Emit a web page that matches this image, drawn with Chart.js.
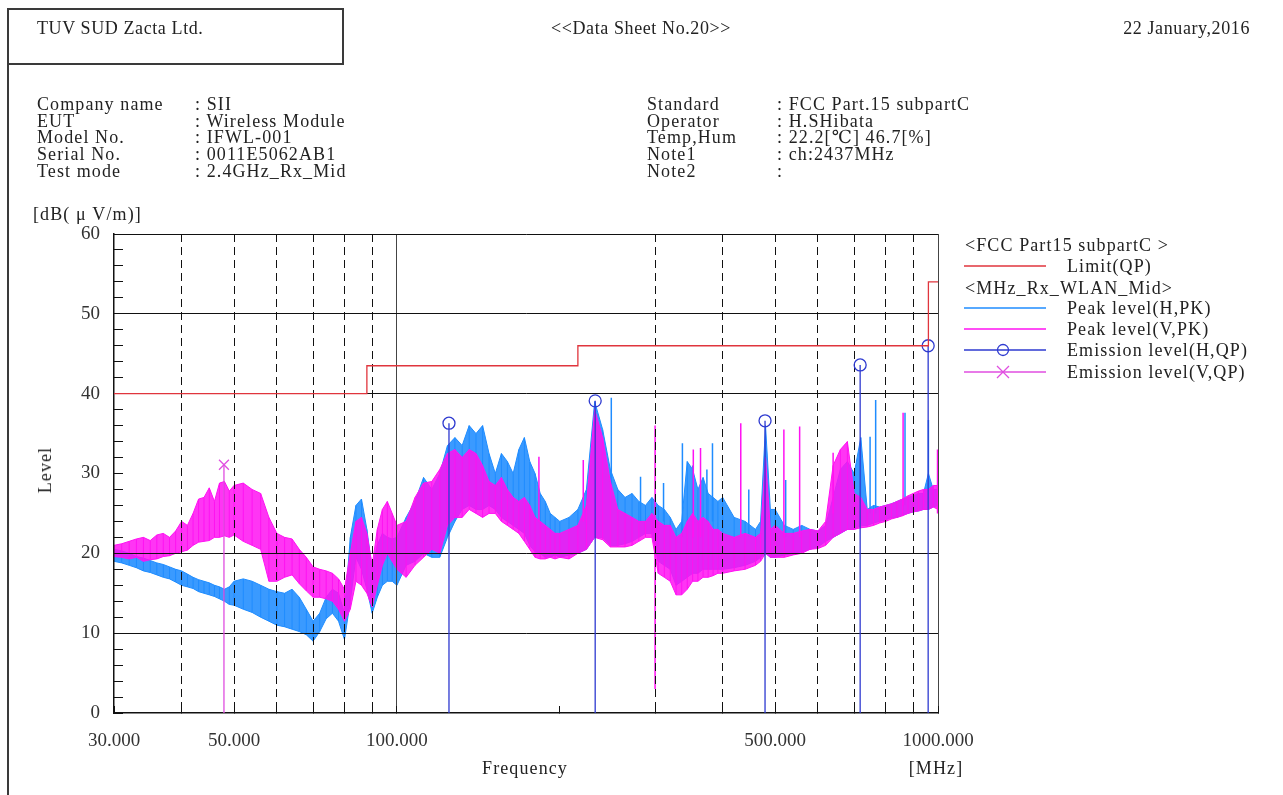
<!DOCTYPE html>
<html>
<head>
<meta charset="utf-8">
<title>Data Sheet No.20</title>
<script src="https://cdn.jsdelivr.net/npm/chart.js@4.4.1/dist/chart.umd.min.js"></script>
<style>
  html, body { margin: 0; padding: 0; background: #fff; }
  #page { position: relative; width: 1283px; height: 795px; overflow: hidden;
          font-family: 'Liberation Serif', 'DejaVu Serif', serif; font-size: 18px; color: #222; }
  #chart { position: absolute; left: 0; top: 0; }
  .t { position: absolute; white-space: pre; line-height: 20px; letter-spacing: 1.1px; transform: translateY(-50%); }
  .rule { position: absolute; background: #3a3a3a; }
  svg.key { position: absolute; overflow: visible; }
</style>
</head>
<body>
<div id="page">
  <canvas id="chart" width="1283" height="795"></canvas>
</div>
<script>
// ---------- data ----------
// frequency grid [MHz] for the peak traces
const freq = [
  30,31,32,33,34,35,36,37,38,39,40,41,42,43,44,45,46,47,48,49,50,
  52,54,56,58,60,62,64,66,68,70,72,74,76,78,80,82,84,86,88,90,92,94,96,98,100,
  104,108,112,116,120,124,128,132,136,140,144,148,152,156,160,164,168,172,176,180,184,188,192,196,200,
  208,216,224,232,240,248,256,264,272,280,288,296,
  304,312,320,328,336,344,352,360,368,376,384,392,400,
  420,440,460,470,480,490,500,520,540,560,580,600,620,640,660,680,700,720,740,760,780,800,820,840,860,880,900,920,940,960,980,1000
];
// horizontal polarisation, peak detector: top / bottom of the noise band [dB(uV/m)]
const hPeakHigh = [
  20.5,20.3,20.0,19.6,19.4,19.1,18.8,18.6,18.3,18.0,17.8,17.4,17.0,16.7,16.5,16.3,16.0,15.8,15.5,15.8,16.5,
  16.8,16.5,16.0,15.5,15.2,15.0,15.5,14.5,13.0,11.5,12.5,14.5,15.5,15.0,12.5,22.0,26.0,26.8,23.0,18.0,21.0,22.5,22.0,21.8,22.0,
  24.5,26.5,29.5,28.0,30.0,33.5,34.5,33.5,36.0,35.0,36.0,32.5,30.0,32.5,31.5,30.0,33.0,34.5,31.5,30.0,27.5,26.5,25.0,24.5,24.0,
  24.5,25.5,28.0,39.0,35.5,30.5,28.0,27.0,27.5,26.5,26.0,27.0,
  26.0,25.5,24.5,23.0,24.0,31.5,30.5,28.0,29.5,27.5,27.0,26.5,27.0,
  24.5,24.0,23.0,24.0,36.0,25.5,25.5,23.5,23.0,23.5,23.0,22.8,23.5,27.0,30.5,31.5,30.0,34.5,25.5,26.0,25.8,26.0,26.2,26.5,26.8,27.0,27.2,27.5,27.5,30.0,28.0,28.0
];
const hPeakLow = [
  19.0,18.8,18.5,18.2,17.8,17.6,17.3,17.0,16.8,16.4,16.0,15.8,15.6,15.2,15.0,14.8,14.6,14.3,14.0,13.6,13.5,
  13.0,12.6,12.0,11.5,11.0,10.8,10.5,10.2,9.8,9.0,10.2,11.8,12.5,11.5,9.2,14.0,19.5,18.0,15.5,12.5,14.5,16.0,16.5,16.5,16.0,
  18.5,19.0,20.0,19.5,19.5,22.0,24.0,25.5,26.0,25.5,25.5,26.0,25.5,24.5,24.0,23.5,23.0,22.5,21.0,20.2,20.0,19.5,19.5,19.8,19.5,
  19.8,20.0,20.5,22.0,22.0,21.0,21.0,21.2,21.5,22.0,22.5,22.5,
  19.0,18.5,18.0,16.0,16.5,17.0,17.5,17.5,18.0,18.0,18.0,18.0,18.0,
  18.2,18.5,19.0,19.5,20.0,19.5,19.5,19.8,20.0,20.2,20.5,20.8,21.5,22.0,22.5,23.0,23.0,23.5,23.5,23.8,24.0,24.2,24.5,24.5,24.8,25.0,25.2,25.3,25.5,25.5,25.8,26.0
];
// vertical polarisation, peak detector
const vPeakHigh = [
  21.0,21.2,21.5,21.8,22.0,21.6,22.3,22.5,22.0,22.8,24.0,23.5,25.0,26.8,27.0,28.2,26.5,28.8,29.0,27.8,28.5,
  28.8,28.0,27.5,24.5,22.5,22.0,21.8,20.5,19.5,18.3,18.0,17.8,17.5,16.8,15.5,20.0,24.0,24.5,22.5,18.5,23.0,25.5,26.5,25.0,23.5,
  24.0,27.0,28.8,29.0,30.5,32.5,33.0,32.0,33.0,32.5,31.0,29.0,28.5,29.5,28.0,27.0,26.5,27.0,26.0,24.5,24.0,23.5,23.0,22.5,22.5,
  23.0,23.5,26.0,38.0,34.5,29.0,25.5,25.0,24.5,24.0,24.0,25.0,
  24.0,23.5,23.5,22.0,22.5,24.0,25.0,24.0,24.5,24.0,23.0,23.0,22.5,
  22.0,22.5,22.0,22.5,32.0,23.0,23.5,22.5,22.5,22.8,23.0,22.8,24.0,31.0,33.0,34.0,27.5,27.0,25.5,25.5,25.8,26.0,26.2,26.5,26.8,27.2,27.5,27.8,28.0,28.0,28.5,28.5
];
const vPeakLow = [
  19.6,19.5,19.3,19.5,19.0,19.2,19.3,19.6,19.7,20.0,20.2,20.4,21.0,21.4,21.5,21.6,22.0,22.0,22.2,22.0,22.3,
  21.5,21.0,20.5,16.5,16.5,17.0,17.3,16.2,15.3,14.5,14.5,14.3,14.0,13.0,11.5,13.0,16.5,16.0,15.0,13.3,16.0,18.5,20.0,19.0,18.0,
  17.0,18.5,19.5,20.5,20.0,23.5,24.5,24.5,25.5,25.0,24.5,25.0,25.0,24.0,23.5,23.0,22.5,21.5,20.5,19.5,19.3,19.3,19.5,19.3,19.5,
  19.3,20.0,20.5,22.0,21.7,20.8,20.8,20.8,21.0,21.5,22.0,22.0,
  17.5,17.0,16.5,14.8,14.8,15.5,16.5,16.5,17.0,17.0,17.2,17.5,17.5,
  17.8,18.0,18.5,19.0,20.0,19.5,19.5,19.5,19.8,20.0,20.5,20.6,21.0,22.0,22.5,23.0,23.0,23.2,23.3,23.5,23.8,24.0,24.3,24.5,24.7,25.0,25.2,25.3,25.5,25.5,25.8,25.5
];
// narrow spurious lines sticking out of the bands
const hSpikeFreq = [249, 282, 311, 337, 352, 374, 383, 447, 523, 749, 767, 869, 960];
const hSpikeTop  = [39.5, 29.6, 28.8, 33.8, 31.0, 30.5, 33.8, 28.0, 29.2, 34.6, 39.2, 37.6, 36.7];
const hSpikeBase = [28, 24, 24, 22, 25, 24, 24, 22, 22, 25, 25, 26, 27];
const vSpikeFreq = [183, 221, 300, 353, 364, 432, 519, 555, 640, 862, 998];
const vSpikeTop  = [32.1, 31.7, 36.0, 33.0, 33.2, 36.3, 35.5, 35.9, 32.6, 37.6, 33.0];
const vSpikeBase = [24, 24, 3.0, 22, 22, 22, 22, 22, 25, 26, 25];
// quasi-peak emission results
const qpHFreq  = [124.8, 232.5, 479, 718, 959];
const qpHLevel = [36.3, 39.1, 36.6, 43.6, 46.0];
const qpVFreq  = [47.9];
const qpVLevel = [31.1];
// FCC Part 15 limit (QP), steps
const limitFreq  = [30, 88, 216, 960, 1000];
const limitLevel = [40, 43.5, 46, 54, 54];
// axes
const xGridValues  = [30, 40, 50, 60, 70, 80, 90, 100, 200, 300, 400, 500, 600, 700, 800, 900, 1000];
const xLabelValues = [30, 50, 100, 500, 1000];
const yGridValues  = [10, 20, 40, 50, 60];

// ---------- colours ----------
const hColor = '#1f8cff';
const hFill = 'rgba(31,140,255,0.88)';
const vColor = '#ff12f2';
const vFill = 'rgba(255,18,242,0.85)';
const qpHColor = '#2e3ad0';
const qpVColor = '#e04ee0';
const limitColor = '#e0353d';

// ---------- page text ----------
const page = document.getElementById('page');
function text(str, x, y, align, extra) {
  const d = document.createElement('div');
  d.className = 't';
  d.textContent = str;
  d.style.top = y + 'px';
  if (align === 'right') d.style.right = (1283 - x) + 'px';
  else d.style.left = x + 'px';
  if (align === 'center') d.style.transform = 'translate(-50%, -50%)';
  if (extra) Object.assign(d.style, extra);
  page.appendChild(d);
  return d;
}
function rule(x, y, w, h) {
  const d = document.createElement('div');
  d.className = 'rule';
  Object.assign(d.style, { left: x + 'px', top: y + 'px', width: w + 'px', height: h + 'px' });
  page.appendChild(d);
}
rule(7, 8, 1.5, 787);
rule(7, 8, 336, 1.5);
rule(342, 8, 1.5, 57);
rule(7, 63, 336, 1.5);

text('TUV SUD Zacta Ltd.', 37, 28, 'left', { letterSpacing: '0.6px' });
text('<<Data Sheet No.20>>', 641, 28, 'center', { letterSpacing: '0.6px' });
text('22 January,2016', 1250, 28, 'right', { letterSpacing: '0.6px' });

const infoLeft = [
  ['Company name', ': SII'], ['EUT', ': Wireless Module'], ['Model No.', ': IFWL-001'],
  ['Serial No.', ': 0011E5062AB1'], ['Test mode', ': 2.4GHz_Rx_Mid']
];
const infoRight = [
  ['Standard', ': FCC Part.15 subpartC'], ['Operator', ': H.SHibata'], ['Temp,Hum', ': 22.2[\u2103] 46.7[%]'],
  ['Note1', ': ch:2437MHz'], ['Note2', ':']
];
infoLeft.forEach((r, i) => { text(r[0], 37, 104 + i * 16.7); text(r[1], 195, 104 + i * 16.7); });
infoRight.forEach((r, i) => { text(r[0], 647, 104 + i * 16.7); text(r[1], 777, 104 + i * 16.7); });

text('[dB( \u03bc V/m)]', 33, 214);
text('Level', 45, 470, 'center', { transform: 'translate(-50%, -50%) rotate(-90deg)' });
text('Frequency', 525, 768, 'center');
text('[MHz]', 936, 768, 'center');

// legend
const legendRows = [
  { head: '<FCC Part15 subpartC >', y: 245 },
  { label: 'Limit(QP)', color: limitColor, y: 266 },
  { head: '<MHz_Rx_WLAN_Mid>', y: 288 },
  { label: 'Peak level(H,PK)', color: hColor, y: 308 },
  { label: 'Peak level(V,PK)', color: vColor, y: 329 },
  { label: 'Emission level(H,QP)', color: qpHColor, y: 350, marker: 'circle' },
  { label: 'Emission level(V,QP)', color: qpVColor, y: 372, marker: 'cross' }
];
const NS = 'http://www.w3.org/2000/svg';
legendRows.forEach(r => {
  if (r.head) { text(r.head, 965, r.y); return; }
  const svg = document.createElementNS(NS, 'svg');
  svg.setAttribute('class', 'key');
  svg.setAttribute('width', 82); svg.setAttribute('height', 14);
  svg.style.left = '964px'; svg.style.top = (r.y - 7) + 'px';
  let html = `<line x1="0" y1="7" x2="82" y2="7" stroke="${r.color}" stroke-width="1.3"/>`;
  if (r.marker === 'circle') html += `<circle cx="39" cy="7" r="5.5" fill="none" stroke="${r.color}" stroke-width="1.3"/>`;
  if (r.marker === 'cross') html += `<path d="M33 1 L45 13 M45 1 L33 13" stroke="${r.color}" stroke-width="1.3"/>`;
  svg.innerHTML = html;
  page.appendChild(svg);
  text(r.label, 1067, r.y);
});

// ---------- chart ----------
Chart.defaults.font.family = "'Liberation Serif', 'DejaVu Serif', serif";
Chart.defaults.font.size = 19;
Chart.defaults.color = '#333';

const xy = (xs, ys) => xs.map((x, i) => ({ x, y: ys[i] }));
const stems = (xs, tops, bases) =>
  xs.flatMap((x, i) => [{ x, y: bases ? bases[i] : 0 }, { x, y: tops[i] }, { x, y: null }]);

const lineBase = { pointRadius: 0, borderWidth: 1, fill: false, spanGaps: false };

const datasets = [
  { ...lineBase, label: 'Emission level(H,QP)', data: xy(qpHFreq, qpHLevel), showLine: false,
    pointStyle: 'circle', pointRadius: 6, pointBorderColor: qpHColor, pointBackgroundColor: 'rgba(0,0,0,0)',
    pointBorderWidth: 1.3, order: 0, onTop: true },
  { ...lineBase, label: 'Emission level(V,QP)', data: xy(qpVFreq, qpVLevel), showLine: false,
    pointStyle: 'crossRot', pointRadius: 7, pointBorderColor: qpVColor, pointBorderWidth: 1.3, order: 0, onTop: true },
  { ...lineBase, label: 'H QP stems', data: stems(qpHFreq, qpHLevel), borderColor: qpHColor, borderWidth: 1.3, order: 1, onTop: true },
  { ...lineBase, label: 'V QP stems', data: stems(qpVFreq, qpVLevel), borderColor: qpVColor, borderWidth: 1.3, order: 1, onTop: true },
  { ...lineBase, label: 'Limit(QP)', data: xy(limitFreq, limitLevel), stepped: 'before', borderColor: limitColor, borderWidth: 1.3, order: 1, onTop: true },
  { ...lineBase, label: 'Peak level(V,PK) lines', data: stems(vSpikeFreq, vSpikeTop, vSpikeBase), borderColor: vColor, borderWidth: 1.5, order: 3 },
  { ...lineBase, label: 'Peak level(V,PK) sweeps', data: stems(freq, vPeakHigh, vPeakLow), borderColor: vColor, order: 4 },
  { ...lineBase, label: 'Peak level(V,PK)', data: xy(freq, vPeakHigh), borderColor: vColor, backgroundColor: vFill, fill: '+1', order: 4 },
  { ...lineBase, label: 'Peak level(V,PK) low', data: xy(freq, vPeakLow), borderColor: vColor, order: 4 },
  { ...lineBase, label: 'Peak level(H,PK) lines', data: stems(hSpikeFreq, hSpikeTop, hSpikeBase), borderColor: hColor, borderWidth: 1.5, order: 5 },
  { ...lineBase, label: 'Peak level(H,PK) sweeps', data: stems(freq, hPeakHigh, hPeakLow), borderColor: hColor, order: 6 },
  { ...lineBase, label: 'Peak level(H,PK)', data: xy(freq, hPeakHigh), borderColor: hColor, backgroundColor: hFill, fill: '+1', order: 6 },
  { ...lineBase, label: 'Peak level(H,PK) low', data: xy(freq, hPeakLow), borderColor: hColor, order: 6 }
];

// limit, QP stems and markers are drawn above the grid like on the data sheet
const onTopPlugin = {
  id: 'onTop',
  beforeDatasetDraw(chart, args) {
    if (chart.data.datasets[args.index].onTop) return false;
  },
  afterDraw(chart) {
    const { ctx, chartArea: a } = chart;
    ctx.save();
    ctx.beginPath();
    ctx.rect(a.left, a.top - 8, a.right - a.left, a.bottom - a.top + 8);
    ctx.clip();
    chart.data.datasets.forEach((ds, i) => {
      if (ds.onTop) chart.getDatasetMeta(i).controller.draw();
    });
    ctx.restore();
  }
};

new Chart(document.getElementById('chart'), {
  type: 'line',
  data: { datasets },
  plugins: [onTopPlugin],
  options: {
    responsive: false,
    animation: false,
    devicePixelRatio: 1,
    layout: { padding: { left: 54, top: 234, right: 345, bottom: 32 } },
    plugins: { legend: { display: false }, tooltip: { enabled: false } },
    scales: {
      x: {
        type: 'logarithmic',
        min: 30,
        max: 1000,
        afterBuildTicks: s => { s.ticks = xGridValues.map(v => ({ value: v })); },
        afterFit: s => { s.height = 50; },
        ticks: {
          autoSkip: false,
          maxRotation: 0,
          padding: 24,
          color: '#333',
          callback: v => xLabelValues.includes(v) ? v.toFixed(3) : ''
        },
        grid: {
          z: 1,
          tickLength: -7,
          lineWidth: 1,
          color: c => (c.tick.value === 30 || c.tick.value === 200) ? 'rgba(0,0,0,0)'
                     : (c.tick.value === 100 || c.tick.value === 1000) ? '#444' : '#111',
          tickColor: '#111'
        },
        border: {
          display: true, color: '#111', width: 1.5, z: 1,
          dash: c => (c.tick && (c.tick.value === 100 || c.tick.value === 1000)) ? [] : [8, 5]
        }
      },
      y: {
        min: 0,
        max: 60,
        afterFit: s => { s.width = 60; },
        ticks: {
          stepSize: 2,
          autoSkip: false,
          padding: 23,
          color: '#333',
          callback: v => v % 10 === 0 ? v : ''
        },
        grid: {
          z: 1,
          tickLength: -9,
          lineWidth: 1,
          color: c => yGridValues.includes(c.tick.value) ? '#111' : 'rgba(0,0,0,0)',
          tickColor: '#111'
        },
        border: { display: true, color: '#111', width: 1.5, z: 1 }
      }
    }
  }
});
</script>
</body>
</html>
